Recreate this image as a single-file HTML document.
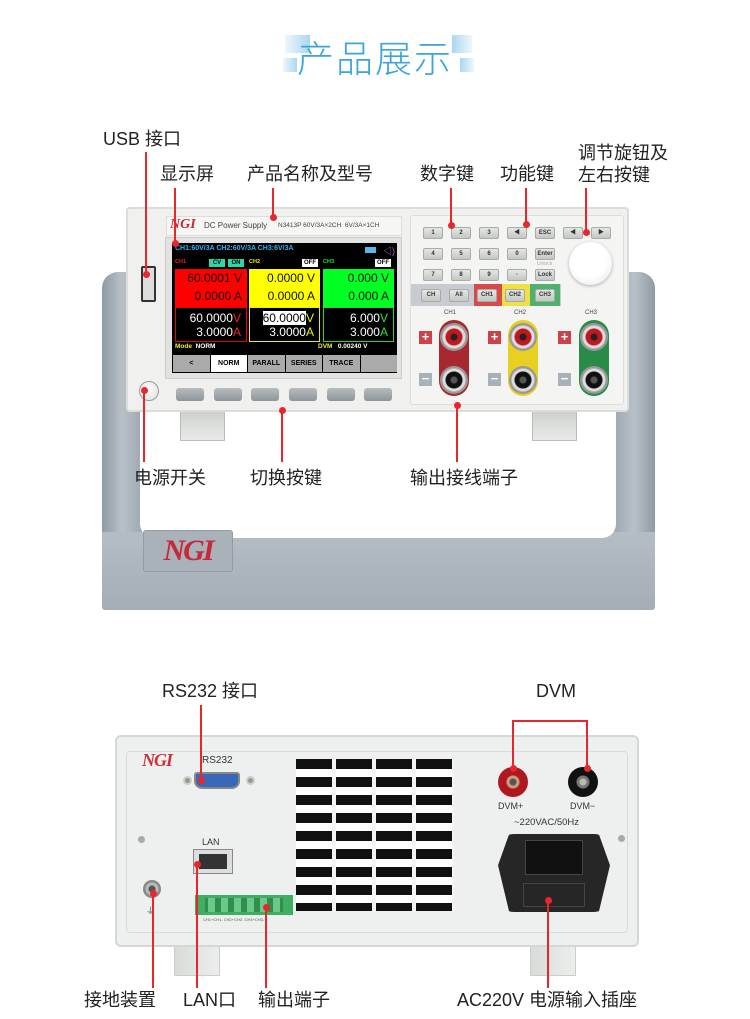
<!DOCTYPE html>
<html><head><meta charset="utf-8">
<style>
*{margin:0;padding:0;box-sizing:border-box}
body{width:750px;height:1019px;background:#fff;position:relative;overflow:hidden;font-family:"Liberation Sans","Noto Sans CJK SC",sans-serif}
.a{position:absolute}
.lbl{position:absolute;font-size:18px;color:#222;white-space:nowrap;font-family:"Liberation Sans","Noto Sans CJK SC",sans-serif;line-height:20px}
.rl{position:absolute;background:#e8262b;width:2px}
.rh{position:absolute;background:#e8262b;height:2px}
.dot{position:absolute;width:7px;height:7px;border-radius:50%;background:#e8262b;margin:-3px 0 0 -3px}
.k{position:absolute;width:20px;height:12px;background:linear-gradient(#e4e6e4,#c4c8c4);border:1px solid #a8aca8;border-radius:2px;font-size:6px;font-weight:bold;color:#333;text-align:center;line-height:10px}
.sb{position:absolute;width:36px;height:13px;background:linear-gradient(#b8bcc0,#8e9498);border-radius:3px}
.post{position:absolute;width:28px;height:28px;border-radius:50%;background:radial-gradient(circle,#222 0 3px,#c01820 4px 8px,#ddd 9px 11px,#999 12px 14px)}
.postb{background:radial-gradient(circle,#555 0 3px,#111 4px 8px,#ddd 9px 11px,#999 12px 14px)}
.pm{position:absolute;width:13px;height:13px;background:#d04048;color:#fff;font-size:13px;line-height:12px;text-align:center;font-weight:bold}
.mn{background:#a8b0b8}
</style></head><body>

<!-- title -->
<div class="a" style="left:285px;top:35px;width:25px;height:18px;background:linear-gradient(90deg,rgba(170,215,240,.2),rgba(150,205,235,.8))"></div>
<div class="a" style="left:283px;top:58px;width:14px;height:14px;background:linear-gradient(90deg,rgba(170,215,240,.2),rgba(150,205,235,.8))"></div>
<div class="a" style="left:452px;top:35px;width:20px;height:18px;background:linear-gradient(90deg,rgba(150,205,235,.8),rgba(170,215,240,.2))"></div>
<div class="a" style="left:460px;top:58px;width:14px;height:14px;background:linear-gradient(90deg,rgba(150,205,235,.8),rgba(170,215,240,.2))"></div>
<div class="a" style="left:290px;top:33px;width:170px;text-align:center;font-size:37px;color:#3ca3dc;font-weight:200;font-family:'Noto Sans CJK SC',sans-serif;line-height:46px;letter-spacing:2px">产品展示</div>

<!-- handle -->
<div class="a" style="left:102px;top:272px;width:40px;height:320px;border-radius:16px 0 0 0;background:linear-gradient(90deg,#8f9aa4,#b9c1c8 50%,#9ea8b0)"></div>
<div class="a" style="left:614px;top:272px;width:41px;height:320px;border-radius:0 16px 0 0;background:linear-gradient(90deg,#9ea8b0,#b9c1c8 50%,#8f9aa4)"></div>
<div class="a" style="left:102px;top:532px;width:553px;height:78px;background:linear-gradient(#b4bcc4,#a4adb5);border-radius:0 0 3px 3px"></div>
<div class="a" style="left:140px;top:410px;width:476px;height:128px;background:#fff;border-radius:0 0 14px 14px"></div>
<div class="a" style="left:143px;top:530px;width:90px;height:42px;background:#a9b1b9;border:1px solid #939ba3;border-radius:3px;color:#c8283a;font:italic bold 30px 'Liberation Serif',serif;text-align:center;line-height:40px;letter-spacing:-2px">NGI</div>

<!-- feet -->
<div class="a" style="left:180px;top:405px;width:45px;height:36px;background:linear-gradient(#c8ccc8,#e8eae8);border:1px solid #bbb"></div>
<div class="a" style="left:532px;top:405px;width:45px;height:36px;background:linear-gradient(#c8ccc8,#e8eae8);border:1px solid #bbb"></div>

<!-- front panel -->
<div class="a" style="left:126px;top:207px;width:503px;height:205px;background:#f0f0ee;border:2px solid #dcdcda;border-radius:4px"></div>
<div class="a" style="left:166px;top:216px;width:236px;height:20px;background:#f6f6f4;border:1px solid #ddd"></div>
<div class="a" style="left:170px;top:217px;font:italic bold 14px 'Liberation Serif',serif;color:#c8283a">NGI</div>
<div class="a" style="left:204px;top:221px;font-size:8px;color:#444">DC Power Supply</div>
<div class="a" style="left:278px;top:222px;font-size:6.5px;color:#444">N3413P 60V/3A×2CH &nbsp;6V/3A×1CH</div>
<div class="a" style="left:141px;top:266px;width:15px;height:36px;border:2px solid #333;background:#ddd;border-radius:2px"></div>
<div class="a" style="left:139px;top:381px;width:20px;height:20px;border-radius:50%;background:radial-gradient(circle at 40% 40%,#fff,#ddd);border:1px solid #999"></div>

<!-- screen bezel -->
<div class="a" style="left:165px;top:237px;width:237px;height:142px;background:#e2e2e0;border:1px solid #ccc"></div>
<div class="a" style="left:172px;top:243px;width:225px;height:130px;background:#000"></div>
<div class="a" style="left:175px;top:245px;font-size:7px;font-weight:bold;color:#2fb0ee">CH1:60V/3A CH2:60V/3A CH3:6V/3A</div>
<div class="a" style="left:365px;top:247px;width:11px;height:6px;background:#5ab8e8"></div>
<div class="a" style="left:383px;top:244px;font-size:9px;color:#c060c0">◁)</div>
<div class="a" style="left:175px;top:259px;font-size:5.5px;font-weight:bold;color:#e22">CH1</div>
<div class="a" style="left:209px;top:259px;width:16px;height:8px;background:#2cd8a8;font-size:6px;font-weight:bold;text-align:center;line-height:8px">CV</div>
<div class="a" style="left:228px;top:259px;width:16px;height:8px;background:#2cd8a8;font-size:6px;font-weight:bold;text-align:center;line-height:8px">ON</div>
<div class="a" style="left:249px;top:259px;font-size:5.5px;font-weight:bold;color:#ee0">CH2</div>
<div class="a" style="left:302px;top:259px;width:16px;height:8px;background:#fff;font-size:6px;font-weight:bold;text-align:center;line-height:8px">OFF</div>
<div class="a" style="left:323px;top:259px;font-size:5.5px;font-weight:bold;color:#2e2">CH3</div>
<div class="a" style="left:375px;top:259px;width:16px;height:8px;background:#fff;font-size:6px;font-weight:bold;text-align:center;line-height:8px">OFF</div>

<div class="a" style="left:175px;top:269px;width:72px;height:38px;background:#f00;font-size:12px;color:#111;text-align:right;padding-right:5px;line-height:18px">60.0001 V<br>0.0000 A</div>
<div class="a" style="left:249px;top:269px;width:71px;height:38px;background:#ff0;font-size:12px;color:#111;text-align:right;padding-right:5px;line-height:18px">0.0000 V<br>0.0000 A</div>
<div class="a" style="left:323px;top:269px;width:71px;height:38px;background:#0f2;font-size:12px;color:#111;text-align:right;padding-right:5px;line-height:18px">0.000 V<br>0.000 A</div>
<div class="a" style="left:175px;top:307px;width:72px;height:35px;border:1px solid #e00;font-size:12px;color:#fff;text-align:right;padding-right:5px;line-height:14px;padding-top:3px">60.0000<span style="color:#f22">V</span><br>3.0000<span style="color:#f22">A</span></div>
<div class="a" style="left:249px;top:307px;width:71px;height:35px;border:1px solid #ee0;font-size:12px;color:#fff;text-align:right;padding-right:5px;line-height:14px;padding-top:3px"><span style="background:#fff;color:#000">60.0000</span><span style="color:#ee0">V</span><br>3.0000<span style="color:#ee0">A</span></div>
<div class="a" style="left:323px;top:307px;width:71px;height:35px;border:1px solid #2d2;font-size:12px;color:#fff;text-align:right;padding-right:5px;line-height:14px;padding-top:3px">6.000<span style="color:#2e2">V</span><br>3.000<span style="color:#2e2">A</span></div>
<div class="a" style="left:175px;top:343px;font-size:6.5px;font-weight:bold;color:#ee2">Mode <span style="color:#fff">&nbsp;NORM</span></div>
<div class="a" style="left:318px;top:343px;font-size:6.5px;font-weight:bold;color:#ee2">DVM <span style="color:#fff">&nbsp;&nbsp;0.00240 V</span></div>
<div class="a" style="left:173px;top:355px;width:224px;height:17px;display:flex;gap:1px;font-size:7px;font-weight:bold;text-align:center;line-height:17px">
<div style="flex:1;background:#aaa">&lt;</div><div style="flex:1;background:#fff">NORM</div><div style="flex:1;background:#aaa">PARALL</div><div style="flex:1;background:#aaa">SERIES</div><div style="flex:1;background:#aaa">TRACE</div><div style="flex:1;background:#aaa"></div></div>
<div class="sb" style="left:176px;top:388px;width:28px"></div>
<div class="sb" style="left:214px;top:388px;width:28px"></div>
<div class="sb" style="left:251px;top:388px;width:28px"></div>
<div class="sb" style="left:289px;top:388px;width:28px"></div>
<div class="sb" style="left:327px;top:388px;width:28px"></div>
<div class="sb" style="left:364px;top:388px;width:28px"></div>

<!-- right keypad -->
<div class="a" style="left:410px;top:215px;width:214px;height:190px;background:#f4f4f2;border:1px solid #ddd;border-radius:3px"></div>
<div class="k" style="left:423px;top:227px">1</div><div class="k" style="left:451px;top:227px">2</div><div class="k" style="left:479px;top:227px">3</div><div class="k" style="left:507px;top:227px">◀</div><div class="k" style="left:535px;top:227px">ESC</div>
<div class="k" style="left:563px;top:227px">◀</div><div class="k" style="left:591px;top:227px">▶</div>
<div class="k" style="left:423px;top:248px">4</div><div class="k" style="left:451px;top:248px">5</div><div class="k" style="left:479px;top:248px">6</div><div class="k" style="left:507px;top:248px">0</div><div class="k" style="left:535px;top:248px">Enter</div>
<div class="a" style="left:537px;top:261px;font-size:5px;color:#aaa">Unlock</div>
<div class="k" style="left:423px;top:269px">7</div><div class="k" style="left:451px;top:269px">8</div><div class="k" style="left:479px;top:269px">9</div><div class="k" style="left:507px;top:269px">·</div><div class="k" style="left:535px;top:269px">Lock</div>
<div class="a" style="left:569px;top:242px;width:43px;height:43px;border-radius:50%;background:radial-gradient(circle at 45% 40%,#fff 50%,#e4e4e4);box-shadow:0 1px 3px #aaa"></div>
<div class="a" style="left:411px;top:284px;width:150px;height:22px;background:#c8ccd0"></div>
<div class="a" style="left:474px;top:284px;width:28px;height:22px;background:#d8484c"></div>
<div class="a" style="left:502px;top:284px;width:28px;height:22px;background:#f0e040"></div>
<div class="a" style="left:530px;top:284px;width:30px;height:22px;background:#50b070"></div>
<div class="k" style="left:421px;top:289px;height:13px;line-height:11px">CH</div><div class="k" style="left:449px;top:289px;height:13px;line-height:11px">All</div>
<div class="k" style="left:477px;top:289px;height:13px;line-height:11px">CH1</div><div class="k" style="left:505px;top:289px;height:13px;line-height:11px">CH2</div><div class="k" style="left:535px;top:289px;height:13px;line-height:11px">CH3</div>
<div class="a" style="left:444px;top:310px;font-size:6px;color:#444">CH1</div>
<div class="a" style="left:514px;top:310px;font-size:6px;color:#444">CH2</div>
<div class="a" style="left:585px;top:310px;font-size:6px;color:#444">CH3</div>
<div class="a" style="left:439px;top:320px;width:30px;height:76px;border-radius:15px;background:#a82830"></div>
<div class="a" style="left:508px;top:320px;width:30px;height:76px;border-radius:15px;background:#e8d020"></div>
<div class="a" style="left:579px;top:320px;width:30px;height:76px;border-radius:15px;background:#2a8a48"></div>
<div class="post" style="left:440px;top:323px"></div><div class="post postb" style="left:440px;top:366px"></div>
<div class="post" style="left:509px;top:323px"></div><div class="post postb" style="left:509px;top:366px"></div>
<div class="post" style="left:580px;top:323px"></div><div class="post postb" style="left:580px;top:366px"></div>
<div class="pm" style="left:419px;top:331px">+</div><div class="pm mn" style="left:419px;top:373px">−</div>
<div class="pm" style="left:488px;top:331px">+</div><div class="pm mn" style="left:488px;top:373px">−</div>
<div class="pm" style="left:558px;top:331px">+</div><div class="pm mn" style="left:558px;top:373px">−</div>

<!-- front labels & lines -->
<div class="lbl" style="left:103px;top:129px">USB 接口</div>
<div class="lbl" style="left:160px;top:164px">显示屏</div>
<div class="lbl" style="left:247px;top:164px">产品名称及型号</div>
<div class="lbl" style="left:420px;top:164px">数字键</div>
<div class="lbl" style="left:500px;top:164px">功能键</div>
<div class="lbl" style="left:578px;top:143px">调节旋钮及</div>
<div class="lbl" style="left:578px;top:165px">左右按键</div>
<div class="rl" style="left:145px;top:152px;height:122px"></div><div class="dot" style="left:146px;top:274px"></div>
<div class="rl" style="left:174px;top:188px;height:55px"></div><div class="dot" style="left:175px;top:243px"></div>
<div class="rl" style="left:272px;top:188px;height:29px"></div><div class="dot" style="left:273px;top:217px"></div>
<div class="rl" style="left:450px;top:188px;height:37px"></div><div class="dot" style="left:451px;top:225px"></div>
<div class="rl" style="left:525px;top:188px;height:36px"></div><div class="dot" style="left:526px;top:224px"></div>
<div class="rl" style="left:585px;top:188px;height:44px"></div><div class="dot" style="left:586px;top:232px"></div>

<div class="rl" style="left:143px;top:390px;height:72px"></div><div class="dot" style="left:144px;top:390px"></div>
<div class="rl" style="left:281px;top:410px;height:52px"></div><div class="dot" style="left:282px;top:410px"></div>
<div class="rl" style="left:456px;top:405px;height:57px"></div><div class="dot" style="left:457px;top:405px"></div>
<div class="lbl" style="left:134px;top:468px">电源开关</div>
<div class="lbl" style="left:250px;top:468px">切换按键</div>
<div class="lbl" style="left:410px;top:468px">输出接线端子</div>

<!-- rear -->
<div class="lbl" style="left:162px;top:681px">RS232 接口</div>
<div class="lbl" style="left:536px;top:681px">DVM</div>
<div class="a" style="left:174px;top:944px;width:46px;height:32px;background:linear-gradient(90deg,#d8dcd8,#eceeec);border:1px solid #ccc"></div>
<div class="a" style="left:530px;top:944px;width:46px;height:32px;background:linear-gradient(90deg,#d8dcd8,#eceeec);border:1px solid #ccc"></div>
<div class="a" style="left:115px;top:735px;width:524px;height:212px;background:#eef0f0;border:2px solid #d4d6d8;border-radius:6px"></div>
<div class="a" style="left:126px;top:751px;width:502px;height:182px;border:1px solid #d8dadc;border-radius:4px"></div>
<div class="a" style="left:142px;top:750px;font:italic bold 18px 'Liberation Serif',serif;color:#d03038;letter-spacing:-1px">NGI</div>
<div class="a" style="left:202px;top:755px;font-size:10px;color:#333">RS232</div>
<div class="a" style="left:185px;top:778px;width:5px;height:5px;border-radius:50%;background:#998;box-shadow:0 0 0 2px #ccc"></div>
<div class="a" style="left:248px;top:778px;width:5px;height:5px;border-radius:50%;background:#998;box-shadow:0 0 0 2px #ccc"></div>
<div class="a" style="left:194px;top:772px;width:46px;height:17px;background:#3a68b8;border:2px solid #888;border-radius:3px 3px 8px 8px"></div>
<div class="a" style="left:202px;top:837px;font-size:9px;color:#333">LAN</div>
<div class="a" style="left:193px;top:849px;width:40px;height:25px;background:#ddd;border:1px solid #888"><div style="margin:4px 5px;width:28px;height:15px;background:#333"></div></div>
<div class="a" style="left:195px;top:895px;width:98px;height:20px;background:#3fae62"></div>
<div class="a" style="left:205px;top:898px;width:78px;height:14px;background:repeating-linear-gradient(90deg,#2f8f4c 0 3px,#6cc88a 3px 10px,#2f8f4c 10px 13px)"></div>
<div class="a" style="left:203px;top:917px;font-size:4px;color:#555">CH1+CH1- CH2+CH2- CH3+CH3-</div>
<div class="a" style="left:143px;top:880px;width:18px;height:18px;border-radius:50%;background:radial-gradient(circle,#555 0 3px,#bbb 4px 6px,#888 7px 9px)"></div>
<div class="a" style="left:146px;top:904px;font-size:9px;color:#555">⏚</div>
<div class="a" style="left:138px;top:836px;width:7px;height:7px;border-radius:50%;background:#aaa"></div>
<div class="a" style="left:618px;top:835px;width:7px;height:7px;border-radius:50%;background:#aaa"></div>
<div class="a" style="left:296px;top:759px;width:158px;height:152px;background:repeating-linear-gradient(180deg,#111 0 10px,#fff 10px 18px)"></div>
<div class="a" style="left:296px;top:759px;width:158px;height:152px;background:repeating-linear-gradient(90deg,transparent 0 36px,#f4f4f4 36px 40px)"></div>
<div class="a" style="left:498px;top:767px;width:30px;height:30px;border-radius:50%;background:radial-gradient(circle,#555 0 3px,#c8a080 4px 6px,#b01820 7px 15px)"></div>
<div class="a" style="left:568px;top:767px;width:30px;height:30px;border-radius:50%;background:radial-gradient(circle,#bba 0 3px,#777 4px 6px,#111 7px 15px)"></div>
<div class="a" style="left:498px;top:801px;font-size:9px;color:#333">DVM+</div>
<div class="a" style="left:570px;top:801px;font-size:9px;color:#333">DVM−</div>
<div class="a" style="left:514px;top:817px;font-size:9.5px;color:#333">~220VAC/50Hz</div>
<div class="a" style="left:498px;top:834px;width:112px;height:78px;background:#262626;border-radius:16px;clip-path:polygon(10% 0,90% 0,100% 40%,90% 100%,10% 100%,0 40%)"></div>
<div class="a" style="left:525px;top:840px;width:58px;height:35px;background:#111;border:1px solid #444"></div>
<div class="a" style="left:523px;top:883px;width:62px;height:24px;border:1px solid #444"></div>

<div class="rl" style="left:200px;top:705px;height:75px"></div><div class="dot" style="left:201px;top:780px"></div>
<div class="rh" style="left:512px;top:720px;width:76px"></div>
<div class="rl" style="left:512px;top:720px;height:48px"></div><div class="dot" style="left:513px;top:768px"></div>
<div class="rl" style="left:586px;top:720px;height:48px"></div><div class="dot" style="left:587px;top:768px"></div>
<div class="rl" style="left:152px;top:893px;height:95px"></div><div class="dot" style="left:153px;top:893px"></div>
<div class="rl" style="left:196px;top:864px;height:124px"></div><div class="dot" style="left:197px;top:864px"></div>
<div class="rl" style="left:265px;top:907px;height:81px"></div><div class="dot" style="left:266px;top:907px"></div>
<div class="rl" style="left:547px;top:900px;height:88px"></div><div class="dot" style="left:548px;top:900px"></div>
<div class="lbl" style="left:84px;top:990px">接地装置</div>
<div class="lbl" style="left:183px;top:990px">LAN口</div>
<div class="lbl" style="left:258px;top:990px">输出端子</div>
<div class="lbl" style="left:457px;top:990px">AC220V 电源输入插座</div>
</body></html>
